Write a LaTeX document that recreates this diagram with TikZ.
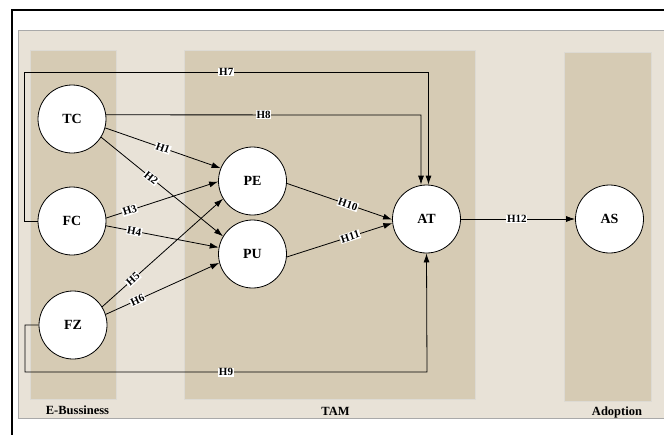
\documentclass[tikz,border=0pt]{standalone}
\usepackage{fontspec}
\setmainfont{Liberation Serif}
\usetikzlibrary{arrows.meta,calc}
\definecolor{bgc}{HTML}{E8E2D7}
\definecolor{colc}{HTML}{D6CBB4}
\definecolor{colb}{HTML}{DDDAD3}
\definecolor{bgb}{HTML}{A9A9A9}
\begin{document}
\begin{tikzpicture}[x=1pt,y=-1pt,
  conc/.style={circle, draw, line width=0.8pt, fill=white, minimum size=68pt, inner sep=0pt,
    font=\fontsize{14}{16}\selectfont\bfseries},
  arr/.style={-{Latex[length=9pt,width=6pt]}, line width=0.8pt},
  lab/.style={fill=white, inner sep=0.8pt, font=\fontsize{11}{12}\selectfont\bfseries},
  grp/.style={font=\fontsize{12.5}{14}\selectfont\bfseries},
  col/.style={fill=colc, draw=colb, line width=1pt}]
\useasboundingbox (0,0) rectangle (664,434);
\clip (0,0) rectangle (664,434);
% frame and background
\draw[line width=1.3pt] (12,10) rectangle (700,470);
\fill[bgc] (18,30) rectangle (700,418);
\draw[bgb, line width=1pt] (700,30) -- (18,30) -- (18,418) -- (700,418);
\filldraw[col] (30,50) rectangle (116,399);
\filldraw[col] (184,50) rectangle (475,399);
\filldraw[col] (564,52) rectangle (651,401);
\node[grp] (gE) at (77.5,410) {E-Bussiness};
\node[grp] (gT) at (335.5,411) {TAM};
\node[grp] (gA) at (617,412) {Adoption};
% nodes
\node[conc] (TC) at (72,119) {TC};
\node[conc] (FC) at (72,221) {FC};
\node[conc] (FZ) at (73,325) {FZ};
\node[conc] (PE) at (252.5,181) {PE};
\node[conc] (PU) at (252.5,254) {PU};
\node[conc] (AT) at (426.5,219) {AT};
\node[conc] (AS) at (609.5,219) {AS};
\coordinate (h7a) at (24,72);
\coordinate (h7b) at (428.5,72);
\coordinate (h8b) at (421,115);
\coordinate (h9a) at (25,372);
\coordinate (h9b) at (427,372);
% edges
\draw[arr] (TC.-15) -- node[lab,sloped,pos=0.5]{H1} (PE.158);
\draw[arr] (TC.-32) -- node[lab,sloped,pos=0.41]{H2} (PU.149);
\draw[arr] (FC.5) -- node[lab,sloped,pos=0.21]{H3} (PE.181);
\draw[arr] (FC.-8) -- node[lab,sloped,pos=0.25]{H4} (PU.169);
\draw[arr] (FZ.32) -- node[lab,sloped,pos=0.255]{H5} (PE.211);
\draw[arr] (FZ.18) -- node[lab,sloped,pos=0.28]{H6} (PU.195);
\draw[arr] (FC.west) -| (h7a) -- node[lab,pos=0.5]{H7} (h7b) -- (h7b |- AT.north);
\draw[arr] (TC.7) -- node[lab,pos=0.5]{H8} (h8b) -- (h8b |- AT.north);
\draw[arr] (FZ.west) -| (h9a) -- node[lab,pos=0.5]{H9} (h9b) -- (AT.south);
\draw[arr] (PE.-4) -- node[lab,sloped,pos=0.58]{H10} (AT.181);
\draw[arr] (PU.-5) -- node[lab,sloped,pos=0.6]{H11} (AT.187);
\draw[arr] (AT.east) -- node[lab,pos=0.49]{H12} (AS.west);
\end{tikzpicture}
\end{document}
